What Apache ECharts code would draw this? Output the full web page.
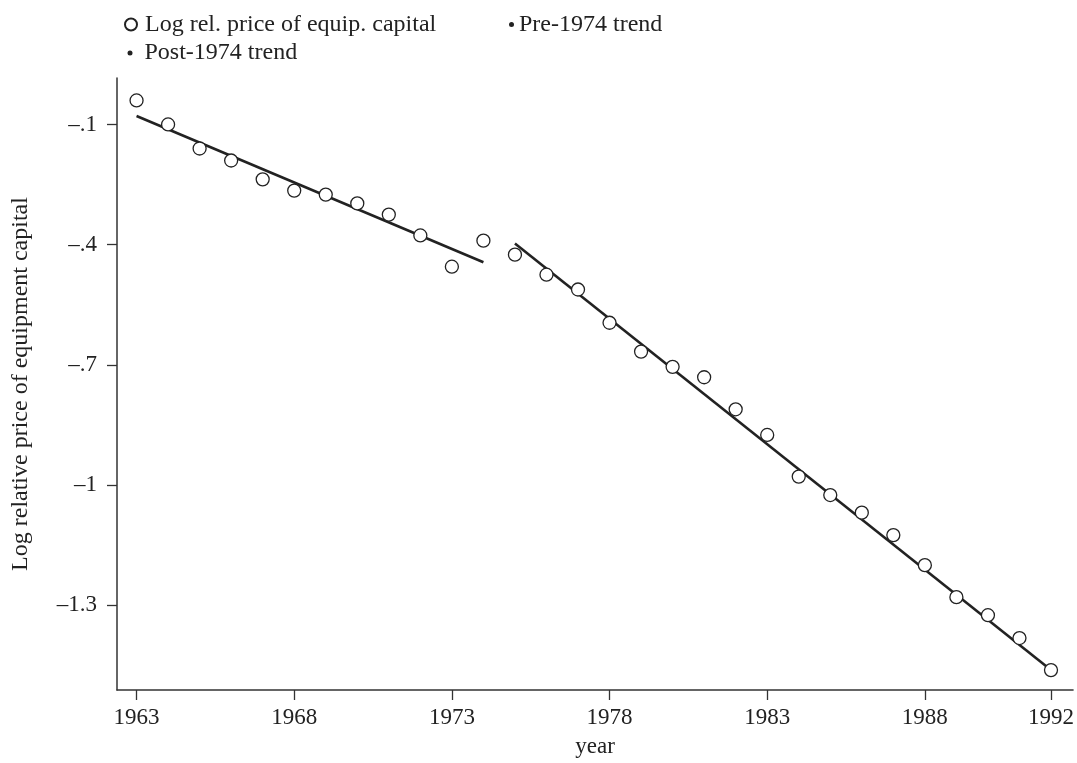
<!DOCTYPE html>
<html>
<head>
<meta charset="utf-8">
<script src="https://cdn.jsdelivr.net/npm/echarts@6/dist/echarts.min.js"></script>
<style>
html,body{margin:0;padding:0;background:#fff;}
#chart{width:1077px;height:763px;}
</style>
</head>
<body>
<div id="chart"></div>
<script>
// Data
const years = [1963,1964,1965,1966,1967,1968,1969,1970,1971,1972,1973,1974,1975,1976,1977,1978,1979,1980,1981,1982,1983,1984,1985,1986,1987,1988,1989,1990,1991,1992];
const logRelPrice = [-0.04,-0.10,-0.16,-0.19,-0.237,-0.265,-0.275,-0.297,-0.325,-0.377,-0.455,-0.39,-0.425,-0.475,-0.512,-0.595,-0.667,-0.705,-0.731,-0.811,-0.875,-0.979,-1.025,-1.069,-1.125,-1.20,-1.28,-1.325,-1.382,-1.462];
const preTrendYears = [1963,1974];
const preTrendValues = [-0.079,-0.444];
const postTrendYears = [1975,1992];
const postTrendValues = [-0.397,-1.462];
const xTickValues = [1963,1968,1973,1978,1983,1988,1992];
const yTickValues = [-0.1,-0.4,-0.7,-1.0,-1.3];
const yTickLabels = ['\u2013.1','\u2013.4','\u2013.7','\u20131','\u20131.3'];
const seriesNames = ['Log rel. price of equip. capital','Pre-1974 trend','Post-1974 trend'];
const xName = 'year';
const yName = 'Log relative price of equipment capital';

const FONT = 'Liberation Serif';
const TXT = '#222';
const AX = '#333';

const chart = echarts.init(document.getElementById('chart'), null, {renderer:'canvas'});

const legendText = {fontFamily: FONT, fontSize: 24, color: TXT};

chart.setOption({
  animation: false,
  backgroundColor: '#fff',
  grid: {left: 117, right: 2, top: 78, bottom: 73, containLabel: false},
  legend: [
    {data:[{name: seriesNames[0], icon:'circle'}], left: 119, top: 7.5, itemWidth: 12, itemHeight: 12,
     textStyle: Object.assign({padding:[0,0,0,3]}, legendText), selectedMode:false},
    {data:[{name: seriesNames[1], icon:'circle'}], left: 504, top: 7.5, itemWidth: 5, itemHeight: 5,
     textStyle: Object.assign({padding:[0,0,0,0]}, legendText), selectedMode:false},
    {data:[{name: seriesNames[2], icon:'circle'}], left: 122.5, top: 36, itemWidth: 5, itemHeight: 5,
     textStyle: Object.assign({padding:[0,0,0,7]}, legendText), selectedMode:false}
  ],
  xAxis: {
    type: 'value', min: 1962.38, max: 1992.7,
    name: xName, nameLocation: 'middle', nameGap: 45,
    nameTextStyle: {fontFamily: FONT, fontSize: 23, color: TXT},
    axisLine: {show: true, onZero: false, lineStyle: {color: AX, width: 1.5}},
    axisTick: {show: true, length: 10, lineStyle: {color: AX, width: 1.3}, customValues: xTickValues},
    axisLabel: {customValues: xTickValues, fontFamily: FONT, fontSize: 23, color: TXT, margin: 16, formatter: v => String(v)},
    splitLine: {show: false}
  },
  yAxis: {
    type: 'value', min: -1.5117, max: 0.016,
    name: yName, nameLocation: 'middle', nameGap: 84, nameRotate: 90,
    nameTextStyle: {fontFamily: FONT, fontSize: 24, color: TXT},
    axisLine: {show: true, onZero: false, lineStyle: {color: AX, width: 1.5}},
    axisTick: {show: true, length: 10, lineStyle: {color: AX, width: 1.3}, customValues: yTickValues},
    axisLabel: {customValues: yTickValues, fontFamily: FONT, fontSize: 23, color: TXT, margin: 20,
      formatter: v => { const i = yTickValues.findIndex(t => Math.abs(t - v) < 1e-6); return i >= 0 ? yTickLabels[i] : ''; }},
    splitLine: {show: false}
  },
  series: [
    {
      name: seriesNames[0], type: 'scatter', symbol: 'circle', symbolSize: 13,
      itemStyle: {color: '#fff', borderColor: '#222', borderWidth: 1.3, opacity: 1},
      data: years.map((y, i) => [y, logRelPrice[i]]), z: 3
    },
    {
      name: seriesNames[1], type: 'line', showSymbol: false, symbol: 'none',
      lineStyle: {color: '#222', width: 2.6}, itemStyle: {color: '#222'},
      data: preTrendYears.map((y, i) => [y, preTrendValues[i]]), z: 2
    },
    {
      name: seriesNames[2], type: 'line', showSymbol: false, symbol: 'none',
      lineStyle: {color: '#222', width: 2.6}, itemStyle: {color: '#222'},
      data: postTrendYears.map((y, i) => [y, postTrendValues[i]]), z: 2
    }
  ]
});
</script>
</body>
</html>
